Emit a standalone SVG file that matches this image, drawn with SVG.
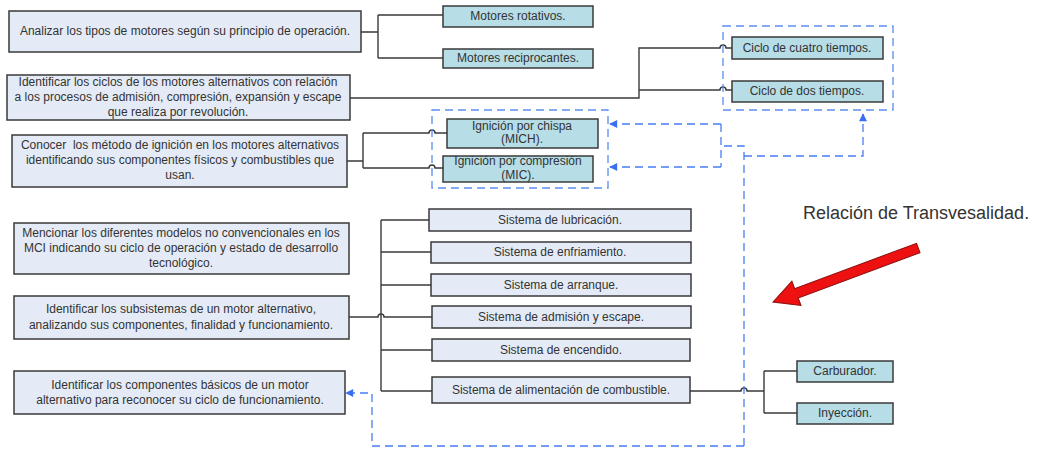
<svg xmlns="http://www.w3.org/2000/svg" width="1037" height="449" viewBox="0 0 1037 449">
  <style>
    .goal { fill: #e5ebf6; stroke: #3a3a3a; stroke-width: 1.5; }
    .item { fill: #b7dde7; stroke: #3a3a3a; stroke-width: 1.5; }
    .sys  { fill: #e5ebf6; stroke: #3a3a3a; stroke-width: 1.5; }
    .group { fill: none; stroke: #5b8ef0; stroke-width: 1.3; stroke-dasharray: 8 5; }
    .link { fill: none; stroke: #3a3a3a; stroke-width: 1.4; }
    .rel  { fill: none; stroke: #4a7ef2; stroke-width: 1.3; stroke-dasharray: 8 5; }
    text { font-family: "Liberation Sans", Arial, sans-serif; font-size: 12px; fill: #333; text-anchor: middle; }
    .title { font-size: 18px; text-anchor: start; fill: #333; }
  </style>
  <defs>
    <marker id="blueHead" viewBox="0 0 10 10" refX="9" refY="5" markerWidth="10" markerHeight="8" markerUnits="userSpaceOnUse" orient="auto">
      <path d="M0,0 L10,5 L0,10 z" fill="#3a6ff2"/>
    </marker>
  </defs>

  <rect width="1037" height="449" fill="#ffffff"/>

  <!-- connectors -->
  <g id="connectors">
    <!-- tipos de motores -->
    <path class="link" d="M361,32 H378 M378,15 V58 M378,15 H443 M378,58 H443"/>
    <!-- ciclos -->
    <path class="link" d="M350,98 H639 V48 H720 a3,3 0 0 1 6,0 H732"/>
    <path class="link" d="M639,90 H720 a3,3 0 0 1 6,0 H732"/>
    <!-- ignición -->
    <path class="link" d="M347,161 H363 M363,133 V168"/>
    <path class="link" d="M363,133 H429 a3,3 0 0 1 6,0 H447"/>
    <path class="link" d="M363,168 H429 a3,3 0 0 1 6,0 H443"/>
    <!-- subsistemas -->
    <path class="link" d="M349,317 H378 a3,3 0 0 1 6,0 H432"/>
    <path class="link" d="M381,220 V391 M381,220 H429 M381,252 H431 M381,285 H431 M381,350 H432 M381,391 H432"/>
    <!-- alimentación -->
    <path class="link" d="M690,391 H741 a3,3 0 0 1 6,0 H764 M764,371 V413 M764,371 H797 M764,413 H797"/>

    <!-- relaciones de transversalidad -->
    <path class="rel" d="M721,124 V167"/>
    <path class="rel" d="M721,124 H610" marker-end="url(#blueHead)"/>
    <path class="rel" d="M721,167 H610" marker-end="url(#blueHead)"/>
    <path class="rel" d="M744,446 V146 H721"/>
    <path class="rel" d="M744,156 H863 V114" marker-end="url(#blueHead)"/>
    <path class="rel" d="M744,446 H372 V393 H346" marker-end="url(#blueHead)"/>
  </g>

  <!-- groupings -->
  <rect id="grupo-ignicion" class="group" x="432" y="110" width="176" height="78"/>
  <rect id="grupo-ciclos" class="group" x="723" y="26" width="170" height="84"/>

  <!-- objectives -->
  <g id="obj-tipos">
    <rect class="goal" x="9" y="11" width="352" height="41"/>
    <text x="185" y="35">Analizar los tipos de motores según su principio de operación.</text>
  </g>
  <g id="obj-ciclos">
    <rect class="goal" x="7" y="75" width="343" height="45"/>
    <text x="178" y="86">Identificar los ciclos de los motores alternativos con relación</text>
    <text x="178" y="101">a los procesos de admisión, compresión, expansión y escape</text>
    <text x="178" y="116">que realiza por revolución.</text>
  </g>
  <g id="obj-ignicion">
    <rect class="goal" x="12" y="135" width="335" height="52"/>
    <text x="180" y="149" style="white-space:pre">Conocer  los método de ignición en los motores alternativos</text>
    <text x="180" y="164">identificando sus componentes físicos y combustibles que</text>
    <text x="180" y="179">usan.</text>
  </g>
  <g id="obj-no-convencionales">
    <rect class="goal" x="14" y="223" width="335" height="51"/>
    <text x="181" y="237">Mencionar los diferentes modelos no convencionales en los</text>
    <text x="181" y="252">MCI indicando su ciclo de operación y estado de desarrollo</text>
    <text x="181" y="267">tecnológico.</text>
  </g>
  <g id="obj-subsistemas">
    <rect class="goal" x="14" y="296" width="335" height="43"/>
    <text x="181" y="313">Identificar los subsistemas de un motor alternativo,</text>
    <text x="181" y="329">analizando sus componentes, finalidad y funcionamiento.</text>
  </g>
  <g id="obj-componentes">
    <rect class="goal" x="14" y="371" width="331" height="43"/>
    <text x="180" y="389">Identificar los componentes básicos de un motor</text>
    <text x="180" y="404">alternativo para reconocer su ciclo de funcionamiento.</text>
  </g>

  <!-- motor types -->
  <g id="motores-rotativos">
    <rect class="item" x="443" y="6" width="150" height="21"/>
    <text x="518" y="20">Motores rotativos.</text>
  </g>
  <g id="motores-reciprocantes">
    <rect class="item" x="443" y="49" width="150" height="19"/>
    <text x="518" y="62">Motores reciprocantes.</text>
  </g>

  <!-- cycles -->
  <g id="ciclo-cuatro">
    <rect class="item" x="732" y="37" width="151" height="22"/>
    <text x="807" y="52">Ciclo de cuatro tiempos.</text>
  </g>
  <g id="ciclo-dos">
    <rect class="item" x="732" y="81" width="151" height="21"/>
    <text x="807" y="95">Ciclo de dos tiempos.</text>
  </g>

  <!-- ignition -->
  <g id="ignicion-chispa">
    <rect class="item" x="447" y="119" width="151" height="29"/>
    <text x="522" y="130">Ignición por chispa</text>
    <text x="522" y="143">(MICH).</text>
  </g>
  <g id="ignicion-compresion">
    <rect class="item" x="443" y="156" width="150" height="26"/>
    <text x="518" y="165">Ignición por compresión</text>
    <text x="518" y="179">(MIC).</text>
  </g>

  <!-- subsystems -->
  <g id="sis-lubricacion">
    <rect class="sys" x="429" y="209" width="262" height="22"/>
    <text x="560" y="224">Sistema de lubricación.</text>
  </g>
  <g id="sis-enfriamiento">
    <rect class="sys" x="431" y="242" width="260" height="21"/>
    <text x="560" y="256">Sistema de enfriamiento.</text>
  </g>
  <g id="sis-arranque">
    <rect class="sys" x="431" y="274" width="260" height="22"/>
    <text x="561" y="289">Sistema de arranque.</text>
  </g>
  <g id="sis-admision">
    <rect class="sys" x="432" y="306" width="259" height="22"/>
    <text x="561" y="321">Sistema de admisión y escape.</text>
  </g>
  <g id="sis-encendido">
    <rect class="sys" x="432" y="339" width="258" height="22"/>
    <text x="561" y="354">Sistema de encendido.</text>
  </g>
  <g id="sis-alimentacion">
    <rect class="sys" x="432" y="377" width="258" height="26"/>
    <text x="561" y="394">Sistema de alimentación de combustible.</text>
  </g>

  <!-- fuel supply -->
  <g id="carburador">
    <rect class="item" x="797" y="361" width="96" height="21"/>
    <text x="845" y="375">Carburador.</text>
  </g>
  <g id="inyeccion">
    <rect class="item" x="797" y="403" width="96" height="21"/>
    <text x="845" y="417">Inyección.</text>
  </g>

  <!-- note with pointer -->
  <g id="nota-transversalidad">
    <text class="title" x="803" y="219">Relación de Transvesalidad.</text>
    <polygon transform="translate(773,302) rotate(-20.4)" points="0,0 25,-13 25,-5 155,-5 155,5 25,5 25,13" fill="#ee1111" stroke="#8a0f0f" stroke-width="1"/>
  </g>
</svg>
